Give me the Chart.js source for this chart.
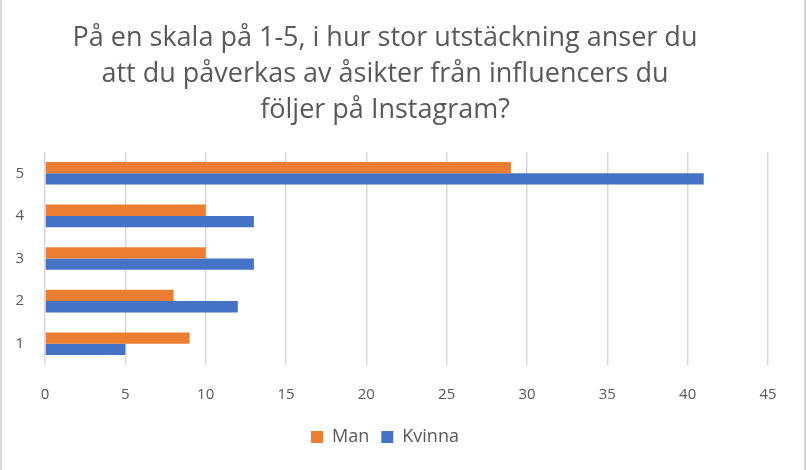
<!DOCTYPE html>
<html>
<head>
<meta charset="utf-8">
<script src="https://cdn.jsdelivr.net/npm/chart.js@4/dist/chart.umd.min.js"></script>
<style>
  html, body { margin: 0; padding: 0; background: #ffffff; }
  #wrap { position: relative; width: 806px; height: 470px; box-sizing: border-box; border-left: 2px solid #d9d9d9; border-right: 2px solid #d9d9d9; }
</style>
</head>
<body>
<div id="wrap"><canvas id="c"></canvas></div>
<script>
const titleLines = [
  "På en skala på 1-5, i hur stor utstäckning anser du",
  "att du påverkas av åsikter från influencers du",
  "följer på Instagram?"
];
const categories = ["5", "4", "3", "2", "1"];
const manValues = [29, 10, 10, 8, 9];
const kvinnaValues = [41, 13, 13, 12, 5];
const xTicks = { min: 0, max: 45, step: 5 };

const textColor = "#595959";
const fontFam = "'Open Sans', 'Liberation Sans', sans-serif";

new Chart(document.getElementById("c"), {
  type: "bar",
  data: {
    labels: categories,
    datasets: [
      { label: "Man", data: manValues, backgroundColor: "#ED7D31", borderWidth: 0 },
      { label: "Kvinna", data: kvinnaValues, backgroundColor: "#4472C4", borderWidth: 0 }
    ]
  },
  options: {
    indexAxis: "y",
    responsive: true,
    maintainAspectRatio: false,
    animation: false,
    devicePixelRatio: 1,
    datasets: { bar: { barPercentage: 1.0, categoryPercentage: 0.53 } },
    layout: { padding: { left: 0, right: 36, top: 20, bottom: 14 } },
    plugins: {
      title: {
        display: true,
        text: titleLines,
        color: "#595959",
        font: { family: fontFam, size: 27, weight: "normal", lineHeight: 1.333 },
        padding: { top: 0, bottom: 24 }
      },
      legend: {
        position: "bottom",
        labels: {
          color: textColor,
          font: { family: fontFam, size: 18 },
          boxWidth: 12,
          boxHeight: 12,
          padding: 12
        }
      },
      tooltip: { enabled: false }
    },
    scales: {
      x: {
        min: xTicks.min,
        max: xTicks.max,
        ticks: { stepSize: xTicks.step, color: textColor, font: { family: fontFam, size: 15 }, padding: 21 },
        grid: { color: "#d9d9d9", lineWidth: 1.5, drawTicks: false },
        border: { display: false },
        afterFit: (s) => { s.height -= 9; }
      },
      y: {
        ticks: { color: textColor, font: { family: fontFam, size: 15 }, padding: 21 },
        grid: { display: false, drawTicks: false },
        border: { display: false },
        afterFit: (s) => { s.width = 43; }
      }
    }
  }
});
</script>
</body>
</html>
